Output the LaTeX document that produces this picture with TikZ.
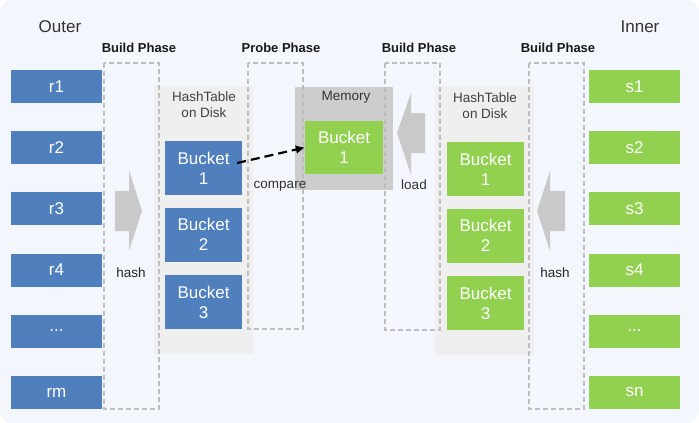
\documentclass[tikz,border=0pt]{standalone}
\usepackage{fontspec}
\setmainfont{Liberation Sans}
\usetikzlibrary{arrows.meta}
\definecolor{bgc}{HTML}{F3F6FC}
\definecolor{bluec}{HTML}{4F80BD}
\definecolor{greenc}{HTML}{92D050}
\definecolor{arrc}{HTML}{C9C9C9}
\definecolor{htc}{HTML}{EFEFEF}
\definecolor{memc}{HTML}{CDCDCD}
\definecolor{dashc}{HTML}{BDBDBD}
\definecolor{txtc}{HTML}{333333}
\tikzset{
  rowbox/.style={minimum width=91pt,minimum height=33pt,inner sep=0pt,text=white,font=\fontsize{17}{20}\selectfont},
  rbox/.style={rowbox,fill=bluec},
  sbox/.style={rowbox,fill=greenc},
  bucketbox/.style={minimum width=77pt,minimum height=54pt,inner sep=0pt,text=white,align=center,font=\fontsize{17}{20}\selectfont},
  phasebox/.style={draw=dashc,line width=1.2pt,dash pattern=on 5pt off 3pt},
  phaselabel/.style={font=\bfseries\fontsize{13}{15}\selectfont,text=black!90},
  smalltext/.style={font=\fontsize{13.5}{16}\selectfont,text=txtc,align=center},
  bigarrow/.style={fill=arrc,draw=none}
}
\begin{document}
\begin{tikzpicture}[x=1pt,y=-1pt]
\useasboundingbox (0,0) rectangle (699,423);
\fill[white] (0,0) rectangle (699,423);
\fill[bgc,rounded corners=12pt] (0,0) rectangle (699,423);

% hash table backgrounds and memory
\fill[htc] (154,86) rectangle (253,354);
\fill[htc] (435,86) rectangle (534,355);
\fill[memc] (295,87) rectangle (393,190);

% titles
\node[font=\fontsize{17}{20}\selectfont,text=txtc] (outer) at (60,27) {Outer};
\node[font=\fontsize{17}{20}\selectfont,text=txtc] (inner) at (640,27) {Inner};
\node[phaselabel] (bp1) at (139,48) {Build Phase};
\node[phaselabel] (pp) at (281,48) {Probe Phase};
\node[phaselabel] (bp2) at (419,48) {Build Phase};
\node[phaselabel] (bp3) at (558,48) {Build Phase};

% row boxes
\node[rbox] (r1) at (56.5,86.5) {r1};
\node[rbox] (r2) at (56.5,147.5) {r2};
\node[rbox] (r3) at (56.5,208.5) {r3};
\node[rbox] (r4) at (56.5,270) {r4};
\node[rbox] (rd) at (56.5,331) {...};
\node[rbox] (rm) at (56.5,392.5) {rm};
\node[sbox] (s1) at (634.5,86.5) {s1};
\node[sbox] (s2) at (634.5,147.5) {s2};
\node[sbox] (s3) at (634.5,208.5) {s3};
\node[sbox] (s4) at (634.5,270) {s4};
\node[sbox] (sd) at (634.5,331) {...};
\node[sbox] (sn) at (634.5,392.5) {sn};

% hash table labels
\node[smalltext,text=black!75] (htl) at (204,105) {HashTable\\on Disk};
\node[smalltext,text=black!75] (htr) at (485,106) {HashTable\\on Disk};
\node[smalltext] (mem) at (346,97) {Memory};

% buckets
\node[bucketbox,fill=bluec] (lb1) at (203.5,168) {Bucket\\1};
\node[bucketbox,fill=bluec] (lb2) at (203.5,234.5) {Bucket\\2};
\node[bucketbox,fill=bluec] (lb3) at (203.5,302) {Bucket\\3};
\node[bucketbox,fill=greenc] (gb1) at (485.5,169) {Bucket\\1};
\node[bucketbox,fill=greenc] (gb2) at (485.5,235.5) {Bucket\\2};
\node[bucketbox,fill=greenc] (gb3) at (485.5,303) {Bucket\\3};
\node[bucketbox,fill=greenc,minimum width=78pt,minimum height=53pt] (mb) at (344,147.5) {Bucket\\1};

% phase dashed boxes
\draw[phasebox] (104,63) rectangle (159,409);
\draw[phasebox] (248,63) rectangle (303,329);
\draw[phasebox] (385,63) rectangle (440,330);
\draw[phasebox] (529,63) rectangle (584,409);

% big arrows
\fill[bigarrow] (115,191) -- (129,191) -- (129,170) -- (142,211) -- (129,251) -- (129,231) -- (115,231) -- cycle;
\fill[bigarrow] (565,191) -- (550,191) -- (550,171) -- (537,211) -- (550,251) -- (550,231) -- (565,231) -- cycle;
\fill[bigarrow] (425,113) -- (411,113) -- (411,93) -- (397,133) -- (411,175) -- (411,153) -- (425,153) -- cycle;

% small labels
\node[smalltext] (cmp) at (280,186) {compare};
\node[smalltext] (ld) at (414,185) {load};
\node[smalltext,text=black!85] (h1) at (131,273) {hash};
\node[smalltext,text=black!85] (h2) at (555,273) {hash};

% compare arrow
\draw[line width=2.2pt,dash pattern=on 9pt off 5pt,-{Latex[length=9pt,width=9pt]}] ([xshift=-5pt,yshift=5pt]lb1.east) -- (mb.west);
\end{tikzpicture}
\end{document}
